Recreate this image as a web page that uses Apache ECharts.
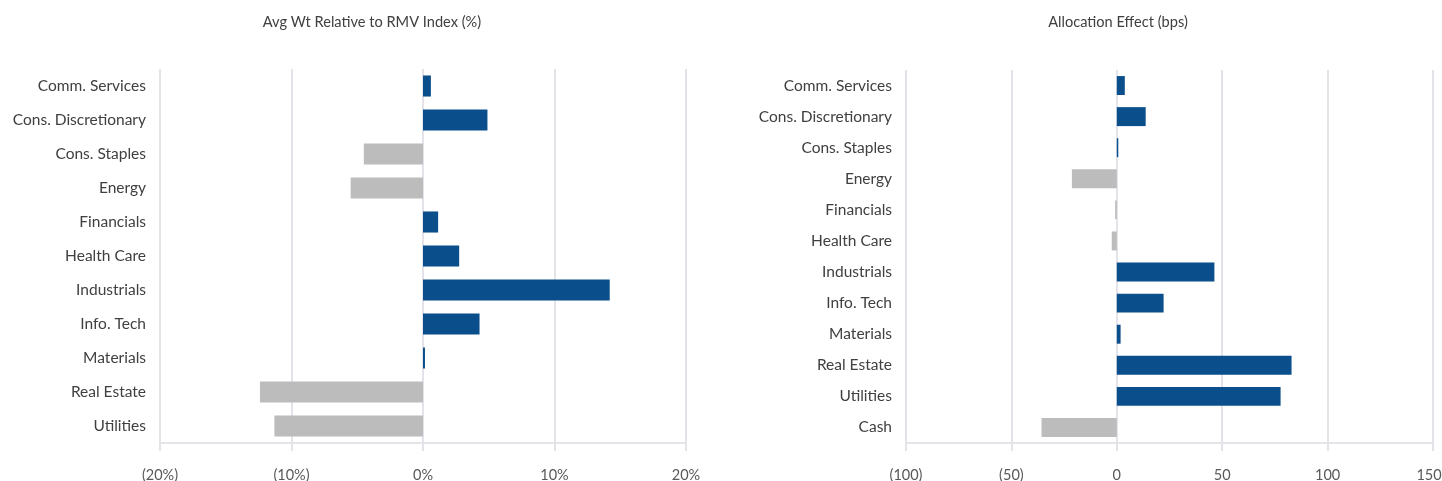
<!DOCTYPE html>
<html>
<head>
<meta charset="utf-8">
<script src="https://cdn.jsdelivr.net/npm/echarts@6/dist/echarts.min.js"></script>
<style>
html,body{margin:0;padding:0;background:#fff;}
#c{width:1442px;height:481px;}
</style>
</head>
<body>
<div id="c"></div>
<script>
const leftTitle = 'Avg Wt Relative to RMV Index (%)';
const rightTitle = 'Allocation Effect (bps)';
const leftCategories = ['Comm. Services','Cons. Discretionary','Cons. Staples','Energy','Financials','Health Care','Industrials','Info. Tech','Materials','Real Estate','Utilities'];
const leftValues = [0.6, 4.9, -4.5, -5.5, 1.15, 2.75, 14.2, 4.3, 0.15, -12.4, -11.3];
const rightCategories = ['Comm. Services','Cons. Discretionary','Cons. Staples','Energy','Financials','Health Care','Industrials','Info. Tech','Materials','Real Estate','Utilities','Cash'];
const rightValues = [3.8, 13.7, 0.7, -21.3, -0.8, -2.4, 46.3, 22.2, 1.8, 82.9, 77.7, -35.7];

const BLUE = '#0a4f8b';
const GRAY = '#bcbcbc';
const GRID = '#e3e3e9';
const FONT = 'Lato';

function paren(v, suffix){
  if (v < 0) return '(' + Math.abs(v) + suffix + ')';
  return v + suffix;
}
function xAxisCfg(idx, min, max, interval, suffix, shiftMax){
  return {
    type:'value', gridIndex: idx, min, max, interval,
    axisLine:{show:true, lineStyle:{color:GRID, width:2}},
    axisTick:{show:true, length:8, lineStyle:{color:GRID, width:2}},
    splitLine:{show:true, lineStyle:{color:GRID, width:2}},
    axisLabel:{color:'#595959', fontFamily:FONT, fontSize:14.5, margin:25,
      formatter:v=>{
        const t = paren(v, suffix);
        return (shiftMax && v === max) ? '{e|' + t + '}' : t;
      },
      rich:{e:{color:'#595959', fontFamily:FONT, fontSize:14.5, padding:[0,8,0,0]}}
    }
  };
}
function yAxisCfg(idx, cats){
  return {
    type:'category', gridIndex: idx, data: cats, inverse:true,
    axisLine:{show:false}, axisTick:{show:false},
    axisLabel:{color:'#404040', fontFamily:FONT, fontSize:15.5, margin:14}
  };
}
const colorFn = p => p.value < 0 ? GRAY : BLUE;

const chart = echarts.init(document.getElementById('c'), null, {renderer:'canvas'});
chart.setOption({
  animation:false,
  title:[
    {text:leftTitle, left:367, top:10, textAlign:'center', textStyle:{fontFamily:FONT, fontSize:14.6, fontWeight:'normal', color:'#404040'}},
    {text:rightTitle, left:1113, top:10, textAlign:'center', textStyle:{fontFamily:FONT, fontSize:14.6, fontWeight:'normal', color:'#404040'}}
  ],
  grid:[
    {left:160, right:756, top:69, bottom:38, containLabel:false, outerBoundsMode:'none'},
    {left:906, right:9, top:70, bottom:38, containLabel:false, outerBoundsMode:'none'}
  ],
  xAxis:[ xAxisCfg(0,-20,20,10,'%',false), xAxisCfg(1,-100,150,50,'',true) ],
  yAxis:[ yAxisCfg(0,leftCategories), yAxisCfg(1,rightCategories) ],
  series:[
    {type:'bar', xAxisIndex:0, yAxisIndex:0, data:leftValues, barCategoryGap:'38%', itemStyle:{color:colorFn}},
    {type:'bar', xAxisIndex:1, yAxisIndex:1, data:rightValues, barCategoryGap:'39%', itemStyle:{color:colorFn}}
  ]
});
</script>
</body>
</html>
